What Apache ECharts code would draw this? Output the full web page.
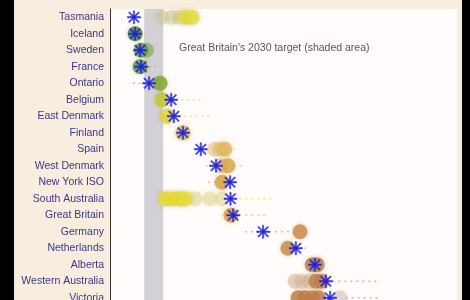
<!DOCTYPE html>
<html><head><meta charset="utf-8">
<script src="https://cdn.jsdelivr.net/npm/echarts@6/dist/echarts.min.js"></script>
<style>html,body{margin:0;padding:0;background:#000}#c{width:470px;height:300px}</style>
</head><body><div id="c"></div>
<script>
// Categories, top to bottom
const countries = ["Tasmania","Iceland","Sweden","France","Ontario","Belgium","East Denmark","Finland","Spain","West Denmark","New York ISO","South Australia","Great Britain","Germany","Netherlands","Alberta","Western Australia","Victoria"];
// Blue asterisk values (gCO2/kWh, estimated)
const targetValues = [23,26,39,42,63,121,128,152,199,239,276,277,284,363,449,499,528,539];
// Great Britain's 2030 target range (shaded area)
const targetBand = [50, 100];
// Bright (current) bubbles: [country, value]
const currentBubbles = [
  ["Tasmania",158],["Tasmania",176],
  ["Iceland",26],
  ["Sweden",42],
  ["France",39],
  ["Ontario",92],
  ["Belgium",97],
  ["East Denmark",110],
  ["Finland",152],
  ["Spain",262],
  ["West Denmark",270],
  ["New York ISO",255],
  ["South Australia",105],["South Australia",123],["South Australia",142],["South Australia",158],
  ["Great Britain",278],
  ["Germany",460],
  ["Netherlands",428],
  ["Alberta",492],["Alberta",505],
  ["Western Australia",502],["Western Australia",516],
  ["Victoria",455],["Victoria",473],["Victoria",492],["Victoria",508]
];
// Faded (earlier) bubbles: [country, value]
const pastBubbles = [
  ["Tasmania",97],["Tasmania",122],["Tasmania",142],
  ["Sweden",56],
  ["Spain",236],["Spain",250],
  ["West Denmark",252],
  ["South Australia",184],["South Australia",223],["South Australia",255],
  ["Western Australia",447],["Western Australia",465],["Western Australia",484],
  ["Victoria",565]
];
// Faint dotted trails: [country, from, to]
const trails = [
  ["Tasmania",40,60],
  ["France",45,80],
  ["Ontario",20,55],
  ["Belgium",130,210],
  ["East Denmark",138,222],
  ["Spain",270,290],
  ["West Denmark",212,238],["West Denmark",285,310],
  ["New York ISO",218,248],
  ["South Australia",300,395],
  ["Great Britain",300,368],
  ["Germany",315,440],
  ["Netherlands",455,475],
  ["Western Australia",545,672],
  ["Victoria",580,672]
];

const palette = {
  "Tasmania":"#e6de3c","Iceland":"#3f8a1e","Sweden":"#5c9c26","France":"#5a9a26","Ontario":"#78a82a",
  "Belgium":"#c4c82c","East Denmark":"#e2d22c","Finland":"#dcbc3c","Spain":"#e2b860","West Denmark":"#daa84c",
  "New York ISO":"#d8a040","South Australia":"#e8e032","Great Britain":"#d8a038","Germany":"#c8884a",
  "Netherlands":"#c8884a","Alberta":"#b97a4c","Western Australia":"#c27a50","Victoria":"#c07848"
};
const pastPalette = {"Tasmania":"#c8c890","Victoria":"#c8b8b0","Western Australia":"#d0a890","South Australia":"#e0d880"};

const asterisk = 'path://M0 10.8H24V13.2H0Z M10.8 0H13.2V24H10.8Z M3.6 1.9L22.1 20.4L20.4 22.1L1.9 3.6Z M20.4 1.9L22.1 3.6L3.6 22.1L1.9 20.4Z';

const chart = echarts.init(document.getElementById('c'));
chart.setOption({
  backgroundColor: '#000',
  animation: false,
  graphic: [
    {type:'rect', shape:{x:14,y:0,width:448,height:300}, style:{fill:'#f8eddf'}, z:-10, silent:true},
    {type:'text', left:179, top:43, style:{text:"Great Britain's 2030 target (shaded area)", fill:'#555', font:'10.5px "Liberation Sans", Arial, sans-serif'}, z:10}
  ],
  grid: {left:110, width:347, top:9, height:297, outerBoundsMode:'none', containLabel:false, show:true, backgroundColor:'#fffcfb', borderWidth:0},
  xAxis: {type:'value', min:-40, max:873, show:false, splitLine:{show:false}},
  yAxis: {
    type:'category', data:countries, inverse:true, boundaryGap:true,
    axisLine:{onZero:false, lineStyle:{color:'#333', width:1}},
    axisTick:{alignWithLabel:true, length:4, lineStyle:{color:'#555'}},
    axisLabel:{color:'#383888', fontSize:10.5, fontFamily:'"Liberation Sans", Arial, sans-serif', margin:6},
    splitLine:{show:false}
  },
  series: [
    {
      type:'scatter', data:[], silent:true,
      markArea:{silent:true, itemStyle:{color:'#d3d1d5'}, data:[[{xAxis:targetBand[0]},{xAxis:targetBand[1]}]]}
    },
    {
      type:'custom', silent:true, z:2,
      encode:{x:[1,2], y:0},
      data: trails,
      renderItem: function(params, api){
        const c = trails[params.dataIndex][0];
        const p1 = api.coord([api.value(1), c]);
        const p2 = api.coord([api.value(2), c]);
        return {type:'line', shape:{x1:p1[0],y1:p1[1],x2:p2[0],y2:p2[1]},
          style:{stroke:palette[c], lineWidth:1.5, lineDash:[2,4], opacity:0.55}};
      }
    },
    {
      type:'scatter', silent:true, z:3, symbolSize:15,
      data: pastBubbles.map(d => [d[1], d[0]]),
      itemStyle:{
        color: p => pastPalette[p.data[1]] || palette[p.data[1]],
        opacity:0.45, shadowBlur:5, shadowColor:'rgba(200,180,120,0.4)'
      }
    },
    {
      type:'scatter', silent:true, z:4, symbolSize:15,
      data: currentBubbles.map(d => [d[1], d[0]]),
      itemStyle:{
        color: p => palette[p.data[1]],
        opacity:0.8, shadowBlur:5, shadowColor:'rgba(180,160,80,0.5)'
      }
    },
    {
      type:'scatter', silent:true, z:6, symbol:asterisk, symbolSize:13,
      data: targetValues.map((v,i) => [v, countries[i]]),
      itemStyle:{color:'#1c1ce8', borderColor:'#1c1ce8', borderWidth:0.6}
    }
  ]
});
</script></body></html>
